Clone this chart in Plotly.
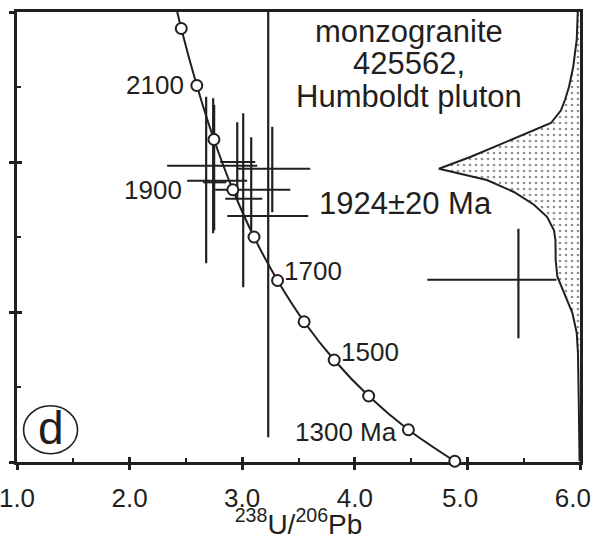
import plotly.graph_objects as go

INK = "#231f20"
FONT = "Liberation Sans, Arial, Helvetica, sans-serif"

# Concordia reference points (Ma) in Tera-Wasserburg space
conc_age = [1200, 1300, 1400, 1500, 1600, 1700, 1800, 1900, 2000, 2100, 2200, 2300]
conc_x = [4.888, 4.476, 4.123, 3.817, 3.550, 3.314, 3.105, 2.917, 2.749, 2.597, 2.459, 2.332]
conc_y = [0.0801, 0.0843, 0.0888, 0.0936, 0.0987, 0.1042, 0.1100, 0.1163, 0.1230, 0.1302, 0.1378, 0.1460]

# Analyses (centre and error extents)
spot_x = [2.680, 2.742, 2.956, 3.009, 3.080, 3.231, 3.267, 2.751, 5.453]
spot_y = [0.1175, 0.1195, 0.1200, 0.1151, 0.1163, 0.1128, 0.1191, 0.1173, 0.1043]
spot_x_lo = [2.511, 2.333, 2.804, 2.849, 2.760, 2.867, 2.956, 2.653, 4.644]
spot_x_hi = [3.044, 3.133, 3.116, 3.178, 3.427, 3.587, 3.604, 2.858, 5.791]
spot_y_lo = [0.1065, 0.1105, 0.1149, 0.1033, 0.1109, 0.0833, 0.1133, 0.1109, 0.0965]
spot_y_hi = [0.1287, 0.1285, 0.1253, 0.1265, 0.1233, 0.1400, 0.1247, 0.1276, 0.1111]

# Probability density curve (plotted sideways from the right axis)
dens_x = [5.980, 5.971, 5.940, 5.902, 5.867, 5.831, 5.742, 5.324, 5.031, 4.747,
          4.880, 5.173, 5.413, 5.591, 5.707, 5.769, 5.782, 5.784, 5.799, 5.858,
          5.932, 5.971, 5.982, 5.989, 5.996]
dens_y = [0.1400, 0.1363, 0.1327, 0.1300, 0.1283, 0.1269, 0.1252, 0.1225, 0.1207, 0.1191,
          0.1186, 0.1176, 0.1160, 0.1143, 0.1127, 0.1109, 0.1096, 0.1069, 0.1047, 0.1025,
          0.0999, 0.0972, 0.0945, 0.0880, 0.0801]

x_ticks = [1, 2, 3, 4, 5, 6]
x_ticktext = ["1.0", "2.0", "3.0", "4.0", "5.0\u00a0\u00a0", "6.0\u00a0\u00a0"]
x_minor = [1.5, 2.5, 3.5, 4.5, 5.5]
y_ticks = [0.08, 0.10, 0.12, 0.14]
y_minor = [0.09, 0.11, 0.13]

fig = go.Figure()

# stippled density fill
fig.add_trace(go.Scatter(
    x=dens_x + [6.0, 6.0], y=dens_y + [0.0801, 0.1400],
    mode="none", fill="toself", fillcolor="white",
    fillpattern=dict(shape=".", fgcolor=INK, bgcolor="white", size=6, solidity=0.16),
    hoverinfo="skip", showlegend=False))
fig.add_trace(go.Scatter(x=dens_x, y=dens_y, mode="lines",
                         line=dict(color=INK, width=2), hoverinfo="skip", showlegend=False))

# error crosses
fig.add_trace(go.Scatter(
    x=spot_x, y=spot_y, mode="markers",
    marker=dict(size=1, color="rgba(0,0,0,0)"),
    error_x=dict(type="data", symmetric=False,
                 array=[h - c for h, c in zip(spot_x_hi, spot_x)],
                 arrayminus=[c - l for l, c in zip(spot_x_lo, spot_x)],
                 width=0, thickness=2.2, color=INK),
    error_y=dict(type="data", symmetric=False,
                 array=[h - c for h, c in zip(spot_y_hi, spot_y)],
                 arrayminus=[c - l for l, c in zip(spot_y_lo, spot_y)],
                 width=0, thickness=2.2, color=INK),
    hoverinfo="skip", showlegend=False))

# concordia
fig.add_trace(go.Scatter(x=conc_x, y=conc_y, mode="lines",
                         line=dict(color=INK, width=2, shape="spline"),
                         hoverinfo="skip", showlegend=False))
fig.add_trace(go.Scatter(x=conc_x[:-1], y=conc_y[:-1], mode="markers",
                         marker=dict(size=11, color="white", line=dict(color=INK, width=2)),
                         cliponaxis=False, hoverinfo="skip", showlegend=False))

# invisible trace for the overlay (inner tick) axes
fig.add_trace(go.Scatter(x=[1], y=[0.08], xaxis="x2", yaxis="y2", mode="markers",
                         marker=dict(size=1, color="rgba(0,0,0,0)"),
                         hoverinfo="skip", showlegend=False))

def ann(text, x, y, size, xanchor="center", yanchor="middle"):
    fig.add_annotation(x=x, y=y, text=text, showarrow=False, xanchor=xanchor, yanchor=yanchor,
                       font=dict(size=size, family=FONT, color=INK), borderpad=0)

ann("2100", 2.493, 0.1303, 26, xanchor="right")
ann("1900", 2.476, 0.1163, 26, xanchor="right")
ann("1700", 3.364, 0.1055, 26, xanchor="left")
ann("1500", 3.871, 0.0947, 26, xanchor="left")
ann("1300 Ma", 4.387, 0.0840, 26, xanchor="right")
ann("monzogranite", 4.484, 0.1374, 31)
ann("425562,", 4.484, 0.1331, 31)
ann("Humboldt pluton", 4.484, 0.1287, 31)
ann("1924\u00b120 Ma", 4.449, 0.1145, 31)
ann("d", 1.298, 0.0845, 46)

fig.add_shape(type="circle", xref="x", yref="y", xsizemode="pixel", ysizemode="pixel",
              xanchor=1.298, yanchor=0.0843, x0=-27, x1=27, y0=-24, y1=24,
              line=dict(color=INK, width=1.6))

fig.update_layout(
    width=592, height=540,
    margin=dict(l=17, r=12, t=12, b=78, autoexpand=False),
    paper_bgcolor="white", plot_bgcolor="white",
    showlegend=False,
    xaxis=dict(range=[1, 6], showline=True, linewidth=2.5, linecolor=INK, mirror=True,
               automargin=False,
               ticks="outside", ticklen=5, tickwidth=2.5, tickcolor=INK,
               tickvals=x_ticks, ticktext=x_ticktext, ticklabeloverflow="allow",
               tickfont=dict(size=26, family=FONT, color=INK), ticklabelstandoff=6,
               showgrid=False, zeroline=False, layer="below traces",
               title=dict(text="<sup>238</sup>U/<sup>206</sup>Pb", standoff=4,
                          font=dict(size=28, family=FONT, color=INK))),
    yaxis=dict(range=[0.08, 0.14], showline=True, linewidth=2.5, linecolor=INK, mirror=True,
               automargin=False,
               ticks="outside", ticklen=5, tickwidth=2.5, tickcolor=INK,
               tickvals=y_ticks, showticklabels=False,
               showgrid=False, zeroline=False),
    xaxis2=dict(overlaying="x", anchor="y2", range=[1, 6], side="bottom", automargin=False,
                ticks="inside", ticklen=5, tickwidth=2.5, tickcolor=INK,
                tickvals=x_ticks, showticklabels=False, showline=False,
                showgrid=False, zeroline=False,
                minor=dict(ticks="inside", ticklen=4, tickwidth=2, tickcolor=INK,
                           tickvals=x_minor, showgrid=False)),
    yaxis2=dict(overlaying="y", anchor="x2", range=[0.08, 0.14], side="left", automargin=False,
                ticks="inside", ticklen=5, tickwidth=2.5, tickcolor=INK,
                tickvals=y_ticks, showticklabels=False, showline=False,
                showgrid=False, zeroline=False,
                minor=dict(ticks="inside", ticklen=4, tickwidth=2, tickcolor=INK,
                           tickvals=y_minor, showgrid=False)),
)

fig.write_html("out.html")
